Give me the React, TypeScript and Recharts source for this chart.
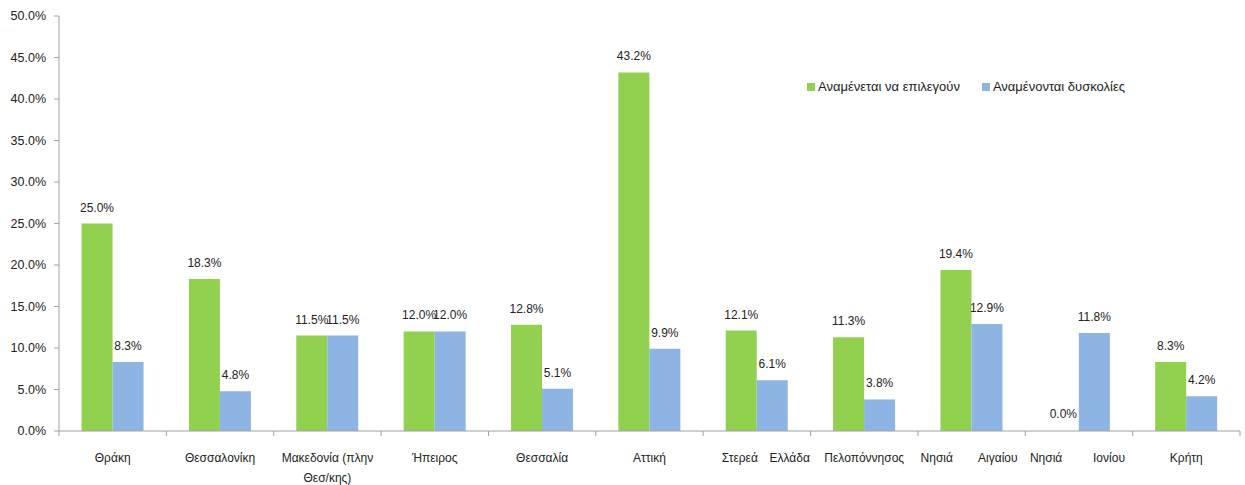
import React from "react";
import { BarChart, Bar, XAxis, YAxis, LabelList, Cell } from "recharts";

const categories = [
  "Θράκη",
  "Θεσσαλονίκη",
  "Μακεδονία (πλην\nΘεσ/κης)",
  "Ήπειρος",
  "Θεσσαλία",
  "Αττική",
  "Στερεά Ελλάδα",
  "Πελοπόννησος",
  "Νησιά Αιγαίου",
  "Νησιά Ιονίου",
  "Κρήτη",
];
const expectedChosen = [25.0, 18.3, 11.5, 12.0, 12.8, 43.2, 12.1, 11.3, 19.4, 0.0, 8.3];
const expectedDifficulties = [8.3, 4.8, 11.5, 12.0, 5.1, 9.9, 6.1, 3.8, 12.9, 11.8, 4.2];
const yTicks = [0, 5, 10, 15, 20, 25, 30, 35, 40, 45, 50];

const SERIES_1 = "Αναμένεται να επιλεγούν";
const SERIES_2 = "Αναμένονται δυσκολίες";
const GREEN = "#92D050";
const BLUE = "#8DB4E2";
const FONT = "'Liberation Sans', Arial, sans-serif";

const data = categories.map((name, i) => ({
  name,
  chosen: expectedChosen[i],
  difficulties: expectedDifficulties[i],
}));

// Excel stretched a few two-word labels across the slot: [left edge, right edge] from the tick centre
const spread: Record<string, [number, number]> = {
  "Στερεά Ελλάδα": [-35, 53],
  "Νησιά Αιγαίου": [-51, 46],
  "Νησιά Ιονίου": [-49, 46],
};

const WIDTH = 1245;
const HEIGHT = 485;
const MARGIN = { top: 16, right: 5, bottom: 0, left: 0 };
const Y_AXIS_W = 59;
const X_AXIS_H = 54;
const BAND = (WIDTH - MARGIN.left - MARGIN.right - Y_AXIS_W) / categories.length;

const pct = (v: number) => `${Number(v).toFixed(1)}%`;

function CategoryTick(props: any) {
  const { x, y, payload, index } = props;
  const label: string = payload.value;
  const last = index === categories.length - 1;
  const textProps = { fill: "#222", fontSize: 12, fontFamily: FONT };
  let body;
  if (spread[label]) {
    const [l, r] = spread[label];
    const words = label.split(" ");
    body = (
      <>
        <text x={x + l} y={y + 31} textAnchor="start" {...textProps}>{words[0]}</text>
        <text x={x + r} y={y + 31} textAnchor="end" {...textProps}>{words[1]}</text>
      </>
    );
  } else {
    const lines = label.split("\n");
    body = (
      <text x={x} y={y + 31} textAnchor="middle" {...textProps}>
        {lines.map((ln, i) => (
          <tspan key={i} x={x} dy={i === 0 ? 0 : 20}>
            {ln}
          </tspan>
        ))}
      </text>
    );
  }
  return (
    <g>
      <line x1={x - BAND / 2} x2={x - BAND / 2} y1={y} y2={y + 5} stroke="#A0A0A0" />
      {last && <line x1={x + BAND / 2} x2={x + BAND / 2} y1={y} y2={y + 5} stroke="#A0A0A0" />}
      {body}
    </g>
  );
}

function ChartLegend() {
  const items = [
    { label: SERIES_1, color: GREEN },
    { label: SERIES_2, color: BLUE },
  ];
  return (
    <div
      style={{
        position: "absolute",
        left: 807,
        top: 79,
        display: "flex",
        fontFamily: FONT,
        fontSize: 13,
        color: "#222",
        whiteSpace: "nowrap",
      }}
    >
      {items.map((it) => (
        <div key={it.label} style={{ display: "flex", alignItems: "center", marginRight: 22 }}>
          <span style={{ width: 8, height: 8, background: it.color, display: "inline-block", marginRight: 3 }} />
          <span>{it.label}</span>
        </div>
      ))}
    </div>
  );
}

const labelStyle = { fill: "#222", fontSize: 12, fontFamily: FONT };

export default function App() {
  return (
    <div style={{ position: "absolute", left: 0, top: 0, width: WIDTH, height: HEIGHT, background: "#fff" }}>
      <BarChart
        width={WIDTH}
        height={HEIGHT}
        data={data}
        margin={MARGIN}
        barCategoryGap="21%"
        barGap={0}
      >
        <XAxis
          dataKey="name"
          interval={0}
          height={X_AXIS_H}
          tickSize={0}
          tickMargin={0}
          tickLine={false}
          axisLine={{ stroke: "#A0A0A0" }}
          tick={<CategoryTick />}
        />
        <YAxis
          domain={[0, 50]}
          ticks={yTicks}
          width={Y_AXIS_W}
          tickFormatter={pct}
          tickSize={5}
          tickMargin={8}
          axisLine={{ stroke: "#A0A0A0" }}
          tickLine={{ stroke: "#A0A0A0" }}
          tick={{ fill: "#222", fontSize: 12.5, fontFamily: FONT }}
        />
        <Bar dataKey="chosen" name={SERIES_1} fill={GREEN} minPointSize={1} isAnimationActive={false}>
          {expectedChosen.map((v, i) => (
            <Cell key={i} fill={GREEN} fillOpacity={v === 0 ? 0 : 1} />
          ))}
          <LabelList dataKey="chosen" position="top" offset={12} formatter={pct} {...labelStyle} />
        </Bar>
        <Bar dataKey="difficulties" name={SERIES_2} fill={BLUE} isAnimationActive={false}>
          <LabelList dataKey="difficulties" position="top" offset={12} formatter={pct} {...labelStyle} />
        </Bar>
      </BarChart>
      <ChartLegend />
    </div>
  );
}
